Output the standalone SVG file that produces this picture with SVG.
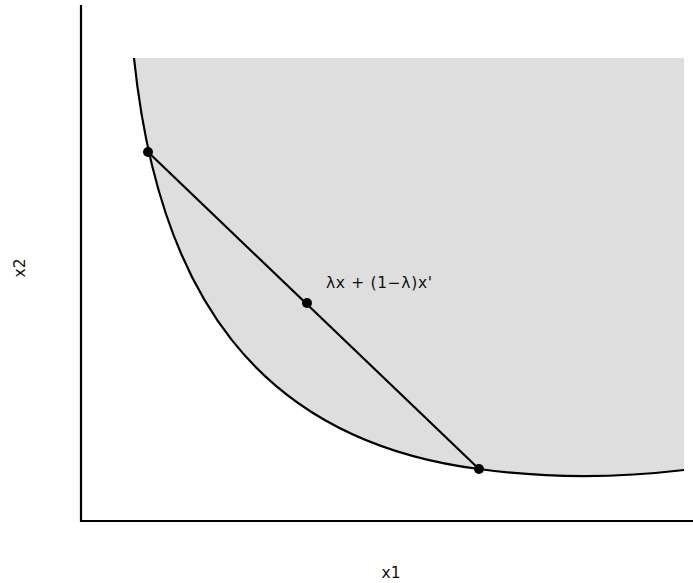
<svg xmlns="http://www.w3.org/2000/svg" width="693" height="583" viewBox="0 0 693 583">
<style>
.ln{fill:none;stroke:#000;stroke-width:2.2}
.pt{fill:#000}
.lbl{font-family:"DejaVu Sans",sans-serif;font-size:15.5px;fill:#111}
</style>
<rect width="693" height="583" fill="#fff"/>
<g id="region">
<path d="M134,58 C158,290 255,440 479,469 C530,476 600,480 684,470 L684,58 Z" fill="#dedede"/>
</g>
<g id="axes">
<line class="ln" x1="81" y1="5" x2="81" y2="522"/>
<line class="ln" x1="80" y1="521" x2="693" y2="521"/>
</g>
<g id="connectors">
<path id="curve" class="ln" d="M134,58 C158,290 255,440 479,469 C530,476 600,480 684,470"/>
<line id="chord" class="ln" x1="148" y1="152" x2="479" y2="469"/>
</g>
<g id="pt-x"><circle class="pt" cx="148" cy="152" r="5"/></g>
<g id="pt-mid"><circle class="pt" cx="307" cy="303" r="5"/></g>
<g id="pt-xp"><circle class="pt" cx="479" cy="469" r="5"/></g>
<g id="labels">
<text class="lbl" x="326" y="288" textLength="106" lengthAdjust="spacing">λx + (1−λ)x'</text>
<text class="lbl" x="391" y="578" text-anchor="middle">x1</text>
<text class="lbl" transform="translate(25,268) rotate(-90)" text-anchor="middle">x2</text>
</g>
</svg>
